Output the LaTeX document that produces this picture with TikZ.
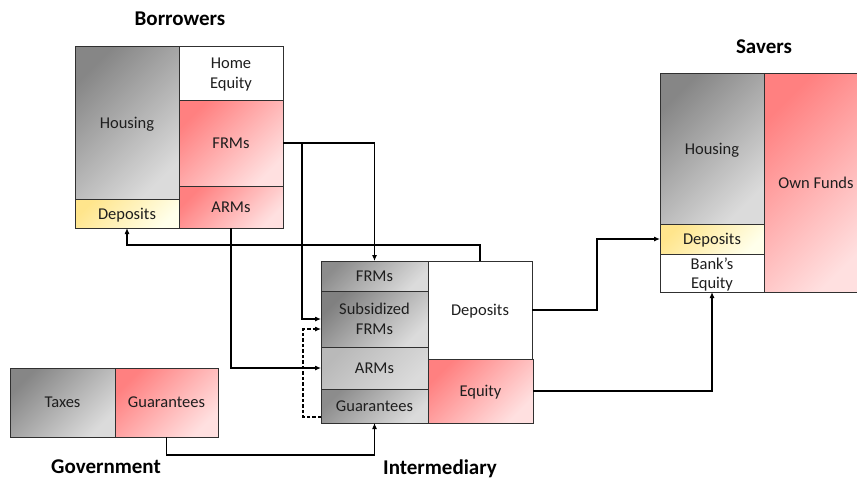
\documentclass[tikz,border=0pt]{standalone}
\usepackage{fontspec}
\setmainfont{Carlito}
\usetikzlibrary{arrows.meta}
\definecolor{ink}{HTML}{1E1E1E}
\definecolor{edge}{HTML}{303030}
\tikzset{
  cell/.style={draw=edge, line width=0.9pt, inner sep=0pt, outer sep=0pt,
    anchor=north west, align=center, text=ink, text depth=0pt,
    font=\fontsize{16.5}{19.5}\selectfont},
  greyfill/.style={top color=#1, bottom color=gray!28, shading angle=45},
  greyfill/.default={gray!95},
  pinkfill/.style={top color=red!50!white, bottom color=red!12!white, shading angle=45},
  yellowfill/.style={top color=yellow!55!orange!45!white, bottom color=yellow!8!white, shading angle=45},
  whitefill/.style={fill=white},
  title/.style={font=\fontsize{21}{24}\selectfont\bfseries, text=black},
  arr/.style={draw=black, line width=1.1pt, -{Latex[length=6pt,width=5pt]}},
  dashline/.style={dash pattern=on 3.5pt off 2pt},
}
\begin{document}
\begin{tikzpicture}[x=1pt, y=-1pt]
\useasboundingbox (0,0) rectangle (857,480);
\begin{scope}
\clip (0,0) rectangle (857,480);

% Borrowers' balance sheet
\node[cell, greyfill, minimum width=104pt, minimum height=153pt] (bhous) at (75,46) {Housing};
\node[cell, yellowfill, minimum width=104pt, minimum height=29pt] (bdep) at (75,199) {Deposits};
\node[cell, whitefill, minimum width=104pt, minimum height=54pt] (bhome) at (179,46) {Home\\Equity};
\node[cell, pinkfill, minimum width=104pt, minimum height=86pt] (bfrm) at (179,100) {FRMs};
\node[cell, pinkfill, minimum width=104pt, minimum height=42pt] (barm) at (179,186) {ARMs};

% Intermediary's balance sheet
\node[cell, greyfill={gray!90}, minimum width=107pt, minimum height=30pt] (ifrm) at (321,261) {FRMs};
\node[cell, greyfill={gray!100}, minimum width=107pt, minimum height=56pt] (isub) at (321,291) {Subsidized\\FRMs};
\node[cell, greyfill={gray!55}, minimum width=107pt, minimum height=42pt] (iarm) at (321,347) {ARMs};
\node[cell, greyfill={gray!90}, minimum width=107pt, minimum height=34pt] (iguar) at (321,389) {Guarantees};
\node[cell, whitefill, minimum width=104pt, minimum height=98pt] (idep) at (428,261) {Deposits};
\node[cell, pinkfill, minimum width=105pt, minimum height=64pt] (ieq) at (428,359) {Equity};

% Savers' balance sheet
\node[cell, greyfill, minimum width=104pt, minimum height=151pt] (shous) at (660,73) {Housing};
\node[cell, yellowfill, minimum width=104pt, minimum height=30pt] (sdep) at (660,224) {Deposits};
\node[cell, whitefill, minimum width=104pt, minimum height=38pt, font=\fontsize{16.5}{19}\selectfont] (sbank) at (660,254) {Bank’s\\Equity};
\node[cell, pinkfill, minimum width=104pt, minimum height=219pt] (sown) at (764,73) {Own Funds};

% Government's balance sheet
\node[cell, greyfill, minimum width=105pt, minimum height=69pt] (gtax) at (10,368) {Taxes};
\node[cell, pinkfill, minimum width=103pt, minimum height=69pt] (ggua) at (115,368) {Guarantees};
\end{scope}

% Sector titles
\node[title] (tbor) at (180,19) {Borrowers};
\node[title] (tsav) at (764,47) {Savers};
\node[title] (tgov) at (106,467) {Government};
\node[title] (tint) at (440,469) {Intermediary};

% Flows between the balance sheets
\draw[arr] (bfrm.east) -| (ifrm.north);
\draw[arr] (bfrm.east) -| (302,319) -- (isub.west |- 0,319);
\draw[arr, dashline] (iguar.west |- 0,417) -| (303,329) -- (isub.west |- 0,329);
\draw[arr] (barm.south) |- (iarm.west);
\draw[arr] (idep.north) -- (idep.north |- 0,245) -| (bdep.south);
\draw[arr] (idep.east) -- ++(65,0) |- (sdep.west);
\draw[arr] (ieq.east) -| (sbank.south);
\draw[arr] (ggua.south) -- (ggua.south |- 0,455) -| (iguar.south);
\end{tikzpicture}
\end{document}
